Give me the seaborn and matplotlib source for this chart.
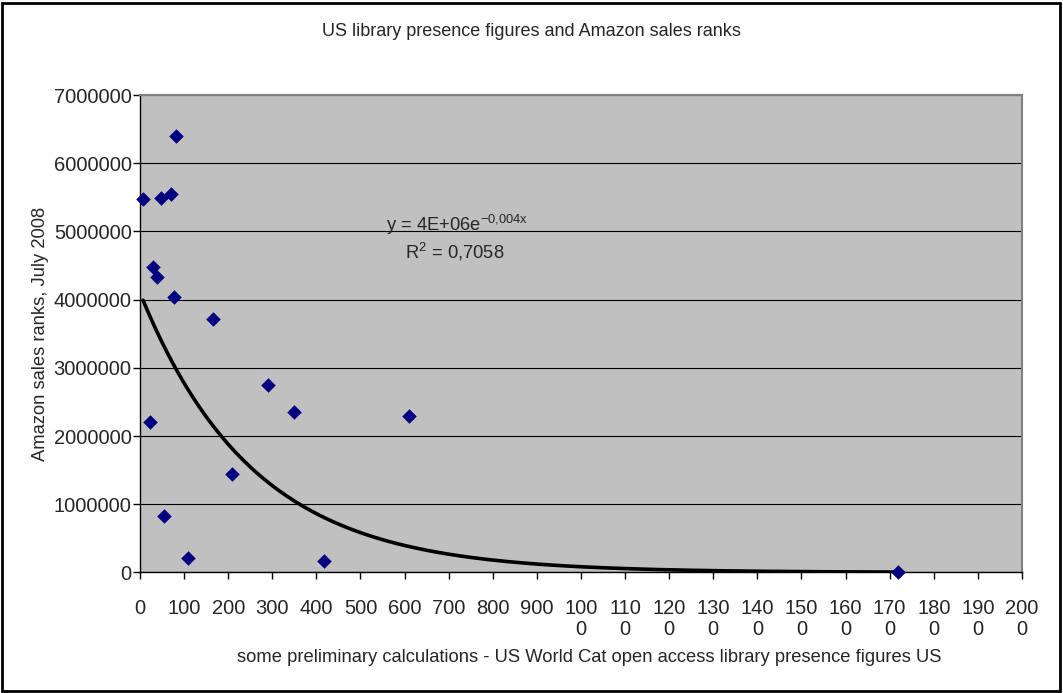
import numpy as np
import pandas as pd
import matplotlib
matplotlib.use("Agg")
import matplotlib.pyplot as plt
import seaborn as sns
from matplotlib.patches import Rectangle

# data
library_presence = [6.8, 82.5, 48.5, 69.6, 29.5, 38.5, 77.1, 164.9, 23.6, 289.6,
                    350.1, 610.9, 208.6, 55.3, 108.8, 418.1, 1720]
sales_rank = [5473000, 6395000, 5488000, 5546000, 4477000, 4327000, 4038000,
              3712000, 2204000, 2745000, 2346000, 2296000, 1447000, 832000,
              212000, 168000, 5000]

# exponential trendline (as drawn)
trend_a = 4.1e6
trend_b = 0.0039

x_ticks = list(range(0, 2001, 100))
y_ticks = list(range(0, 7000001, 1000000))

df = pd.DataFrame({"presence": library_presence, "rank": sales_rank})

sns.set_style("white")
plt.rcParams['font.family'] = ['Liberation Sans', 'DejaVu Sans']
plt.rcParams['mathtext.default'] = 'regular'

fig = plt.figure(figsize=(10.63, 6.93), dpi=100)
ax = fig.add_axes([0.1317, 0.1740, 0.8297, 0.6889])
ax.set_facecolor("#c0c0c0")

#trendline
tx = np.linspace(min(library_presence), max(library_presence), 400)
trend = pd.DataFrame({"x": tx, "y": trend_a * np.exp(-trend_b * tx)})
sns.lineplot(data=trend, x="x", y="y", color="black", linewidth=2.6, ax=ax, zorder=3)

#points
sns.scatterplot(data=df, x="presence", y="rank", marker="D", color="#000080",
                s=55, edgecolor="#000080", linewidth=0, ax=ax, zorder=4, clip_on=False)

ax.set_xlim(0, 2000)
ax.set_ylim(0, 7000000)
ax.set_yticks(y_ticks)
ax.set_yticklabels([str(v) for v in y_ticks], fontsize=14.5)
ax.set_xticks(x_ticks)
ax.set_xticklabels([str(v) if v < 1000 else str(v)[:3] + "\n" + str(v)[3:] for v in x_ticks],
                   fontsize=14.5, linespacing=1.12, va="top")
ax.tick_params(axis="x", direction="out", length=5, width=1, color="black", bottom=True, pad=14)
ax.tick_params(axis="y", direction="out", length=5, width=1, color="black", left=True, pad=1)
ax.yaxis.grid(True, color="black", linewidth=0.8)
ax.set_axisbelow(True)

for s in ["top", "right"]:
    ax.spines[s].set_color("#808080")
    ax.spines[s].set_linewidth(1.5)
for s in ["left", "bottom"]:
    ax.spines[s].set_color("black")
    ax.spines[s].set_linewidth(1)

ax.set_xlabel("")
fig.text(0.554, 0.051,
         "some preliminary calculations - US World Cat open access library presence figures US",
         ha="center", va="center", fontsize=13.2)
ax.set_ylabel("Amazon sales ranks, July 2008", fontsize=13.2, labelpad=3)
fig.text(0.5, 0.955, "US library presence figures and Amazon sales ranks", ha="center",
         va="center", fontsize=13)

ax.text(0.36, 0.727, r"y = 4E+06e$^{-0{,}004x}$", transform=ax.transAxes, ha="center",
        va="center", fontsize=13.2)
ax.text(0.357, 0.672, r"R$^{2}$ = 0,7058", transform=ax.transAxes, ha="center",
        va="center", fontsize=13.2)

fig.patches.append(Rectangle((0.002, 0.003), 0.995, 0.993, transform=fig.transFigure,
                             fill=False, edgecolor="black", linewidth=2))

plt.savefig("out.png", dpi=100)
